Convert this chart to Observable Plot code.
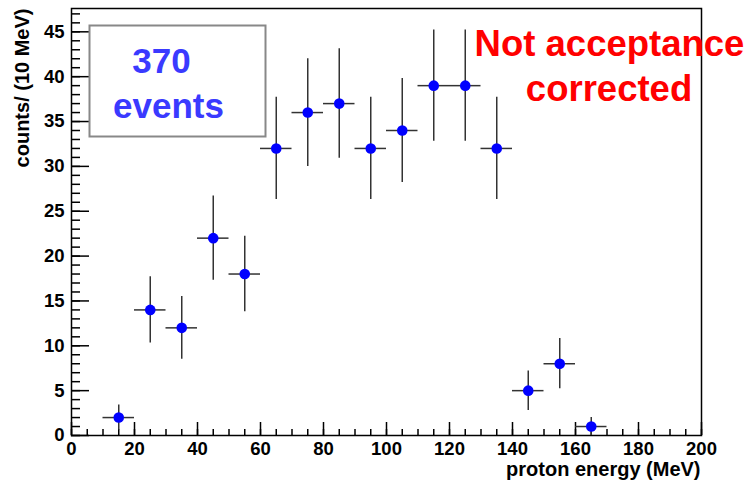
<!DOCTYPE html>
<html><head><meta charset="utf-8">
<script src="https://cdn.jsdelivr.net/npm/d3@7"></script>
<script src="https://cdn.jsdelivr.net/npm/@observablehq/plot@0.6"></script>
<style>body{margin:0;background:#fff;}</style>
</head><body><div id="chart"></div>
<script>
const binCenters = [15,25,35,45,55,65,75,85,95,105,115,125,135,145,155,165];
const counts = [2,14,12,22,18,32,36,37,32,34,39,39,32,5,8,1];
const errors = [1.4,3.7,3.5,4.7,4.2,5.7,6.0,6.1,5.7,5.8,6.2,6.2,5.7,2.2,2.8,1.0];
const binWidth = 10;
const xMajorTicks = [0,20,40,60,80,100,120,140,160,180,200];
const xMinorTicks = d3.range(0, 201, 5);
const yMajorTicks = [0,5,10,15,20,25,30,35,40,45];
const yMinorTicks = d3.range(0, 48, 1);
const xLabel = "proton energy (MeV)";
const yLabel = "counts/ (10 MeV)";
const eventsText = ["370", "events"];
const noteText = ["Not acceptance", "corrected"];

const data = binCenters.map((x, i) => ({x, y: counts[i], e: errors[i]}));
const font = "'Liberation Sans', Arial, Helvetica, sans-serif";
const blue = "#3a3aff";

const chart = Plot.plot({
  width: 749,
  height: 480,
  marginTop: 8,
  marginLeft: 71,
  marginRight: 48,
  marginBottom: 45,
  style: {fontFamily: font, fontSize: "18px", fontWeight: "bold", background: "white", color: "black"},
  x: {domain: [0, 200]},
  y: {domain: [0, 47.6]},
  marks: [
    Plot.axisX(xMajorTicks, {tickSize: 0, tickPadding: 6, fontSize: 18.5, fontWeight: "bold", label: null}),
    Plot.axisY(yMajorTicks, {tickSize: 0, tickPadding: 7, fontSize: 18.5, fontWeight: "bold", label: null}),
    Plot.axisX(xMajorTicks, {tickSize: -13, text: null, strokeWidth: 1.5, label: null}),
    Plot.axisX(xMinorTicks, {tickSize: -6, text: null, strokeWidth: 1.5, label: null}),
    Plot.axisY(yMajorTicks, {tickSize: -18, text: null, strokeWidth: 1.5, label: null}),
    Plot.axisY(yMinorTicks, {tickSize: -9, text: null, strokeWidth: 1.5, label: null}),
    Plot.frame({stroke: "black", strokeWidth: 1.5}),
    Plot.ruleY(data, {y: "y", x1: d => d.x - binWidth / 2, x2: d => d.x + binWidth / 2, stroke: "#333", strokeWidth: 1.5}),
    Plot.ruleX(data, {x: "x", y1: d => Math.max(0, d.y - d.e), y2: d => d.y + d.e, stroke: "#333", strokeWidth: 1.5}),
    Plot.dot(data, {x: "x", y: "y", r: 5.3, fill: "#0000ff", stroke: null}),
    Plot.frame({stroke: "#888", strokeWidth: 2, insetLeft: 18, insetTop: 17, insetRight: 436, insetBottom: 299}),
    Plot.text([eventsText[0]], {text: d => d, frameAnchor: "top-left", dx: 90, dy: 64, textAnchor: "middle", lineAnchor: "bottom", fontSize: 35, fontWeight: "bold", fill: blue}),
    Plot.text([eventsText[1]], {text: d => d, frameAnchor: "top-left", dx: 97, dy: 109, textAnchor: "middle", lineAnchor: "bottom", fontSize: 35, fontWeight: "bold", fill: blue}),
    Plot.text([noteText[0]], {text: d => d, frameAnchor: "top-left", dx: 538, dy: 47, textAnchor: "middle", lineAnchor: "bottom", fontSize: 36.5, fontWeight: "bold", fill: "#ff0000"}),
    Plot.text([noteText[1]], {text: d => d, frameAnchor: "top-left", dx: 537.5, dy: 92, textAnchor: "middle", lineAnchor: "bottom", fontSize: 36.5, fontWeight: "bold", fill: "#ff0000"}),
    Plot.text([xLabel], {text: d => d, frameAnchor: "bottom-right", dx: -1, dy: 40.5, textAnchor: "end", lineAnchor: "bottom", fontSize: 20, fontWeight: "bold"}),
    Plot.text([yLabel], {text: d => d, frameAnchor: "top-left", dx: -49, dy: 0, rotate: -90, textAnchor: "end", lineAnchor: "middle", fontSize: 20, fontWeight: "bold"})
  ]
});
document.getElementById("chart").append(chart);
</script>
</body></html>
